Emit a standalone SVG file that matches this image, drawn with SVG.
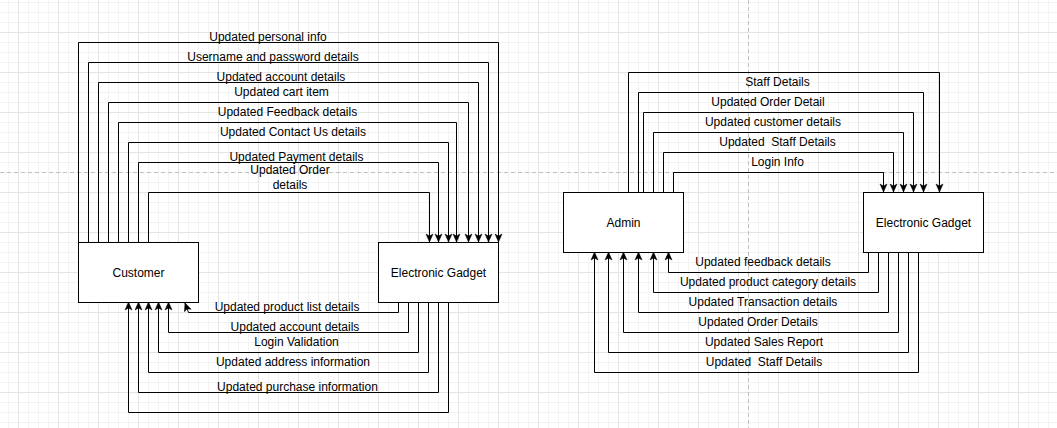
<svg xmlns="http://www.w3.org/2000/svg" width="1057" height="428" viewBox="0 0 1057 428">
<style>
.box{fill:#ffffff;stroke:#000000;stroke-width:1}
.edge{fill:none;stroke:#000000;stroke-width:1}
.arr{marker-end:url(#arrow)}
text{font-family:"Liberation Sans",Arial,Helvetica,sans-serif;font-size:12px;fill:#000000;text-anchor:middle;white-space:pre}
.guide{stroke:#c0c0c0;stroke-width:1;stroke-dasharray:4 3;fill:none}
</style>
<defs>
<pattern id="minor" patternUnits="userSpaceOnUse" x="8" y="2" width="10" height="10">
<path d="M0.5 0V10M0 0.5H10" stroke="#f3f3f3" stroke-width="1" fill="none"/>
</pattern>
<pattern id="major" patternUnits="userSpaceOnUse" x="18" y="32" width="40" height="40">
<path d="M0.5 0V40M0 0.5H40" stroke="#e4e4e4" stroke-width="1" fill="none"/>
</pattern>
<marker id="arrow" markerUnits="userSpaceOnUse" viewBox="-9 -5 10 10" markerWidth="10" markerHeight="10" refX="0" refY="0" orient="auto">
<path d="M0,0 L-8,-3.5 L-6,0 L-8,3.5 Z" fill="#000000" stroke="#000000" stroke-width="0.5"/>
</marker>
</defs>
<rect width="1057" height="428" fill="#ffffff"/>
<rect width="1057" height="428" fill="url(#minor)"/>
<rect width="1057" height="428" fill="url(#major)"/>
<path class="guide" d="M748.5 0V428M0 172.5H1057"/>

<g id="connectors">
<path class="edge arr" d="M78.5 242V42.5H498.5V242"/>
<path class="edge arr" d="M88.5 242V62.5H488.5V242"/>
<path class="edge arr" d="M98.5 242V82.5H478.5V242"/>
<path class="edge arr" d="M108.5 242V102.5H468.5V242"/>
<path class="edge arr" d="M118.5 242V122.5H456.5V242"/>
<path class="edge arr" d="M128.5 242V142.5H448.5V242"/>
<path class="edge arr" d="M138.5 242V162.5H438.5V242"/>
<path class="edge arr" d="M148.5 242V192.5H429.5V242"/>

<path class="edge arr" d="M398.5 302V312.5H188.5L185 303"/>
<path class="edge arr" d="M408.5 302V332.5H168.5V302"/>
<path class="edge arr" d="M418.5 302V352.5H158.5V302"/>
<path class="edge arr" d="M428.5 302V372.5H148.5V302"/>
<path class="edge arr" d="M438.5 302V392.5H138.5V302"/>
<path class="edge arr" d="M448.5 302V412.5H128.5V302"/>

<path class="edge arr" d="M628.5 192V72.5H939.5V192"/>
<path class="edge arr" d="M638.5 192V92.5H923.5V192"/>
<path class="edge arr" d="M643.5 192V112.5H913.5V192"/>
<path class="edge arr" d="M653.5 192V132.5H903.5V192"/>
<path class="edge arr" d="M663.5 192V152.5H893.5V192"/>
<path class="edge arr" d="M673.5 192V172.5H883.5V192"/>

<path class="edge arr" d="M868.5 252V272.5H668.5V252"/>
<path class="edge arr" d="M878.5 252V292.5H653.5V252"/>
<path class="edge arr" d="M888.5 252V312.5H638.5V252"/>
<path class="edge arr" d="M898.5 252V332.5H623.5V252"/>
<path class="edge arr" d="M908.5 252V352.5H608.5V252"/>
<path class="edge arr" d="M918.5 252V372.5H594.5V252"/>

<text x="268" y="41">Updated personal info</text>
<text x="273" y="61">Username and password details</text>
<text x="281" y="81">Updated account details</text>
<text x="281.5" y="96">Updated cart item</text>
<text x="287.5" y="116">Updated Feedback details</text>
<text x="293" y="136">Updated Contact Us details</text>
<text x="296.5" y="161">Updated Payment details</text>
<text x="290" y="174">Updated Order</text>
<text x="290" y="189">details</text>

<text x="287" y="311">Updated product list details</text>
<text x="295" y="331">Updated account details</text>
<text x="296.5" y="346">Login Validation</text>
<text x="293" y="366">Updated address information</text>
<text x="297.5" y="391">Updated purchase information</text>

<text x="777.5" y="86">Staff Details</text>
<text x="768" y="106">Updated Order Detail</text>
<text x="773" y="126">Updated customer details</text>
<text x="777.5" y="146">Updated  Staff Details</text>
<text x="777.5" y="166">Login Info</text>

<text x="763" y="266">Updated feedback details</text>
<text x="768" y="286">Updated product category details</text>
<text x="763" y="306">Updated Transaction details</text>
<text x="758" y="326">Updated Order Details</text>
<text x="764" y="346">Updated Sales Report</text>
<text x="764" y="366">Updated  Staff Details</text>
</g>

<g id="customer">
<rect class="box" x="78.5" y="242.5" width="120" height="60"/>
<text x="138.5" y="276.5">Customer</text>
</g>
<g id="gadget-left">
<rect class="box" x="378.5" y="242.5" width="120" height="60"/>
<text x="438.5" y="276.5">Electronic Gadget</text>
</g>
<g id="admin">
<rect class="box" x="563.5" y="192.5" width="120" height="60"/>
<text x="623.5" y="226.5">Admin</text>
</g>
<g id="gadget-right">
<rect class="box" x="863.5" y="192.5" width="120" height="60"/>
<text x="923.5" y="226.5">Electronic Gadget</text>
</g>
</svg>
